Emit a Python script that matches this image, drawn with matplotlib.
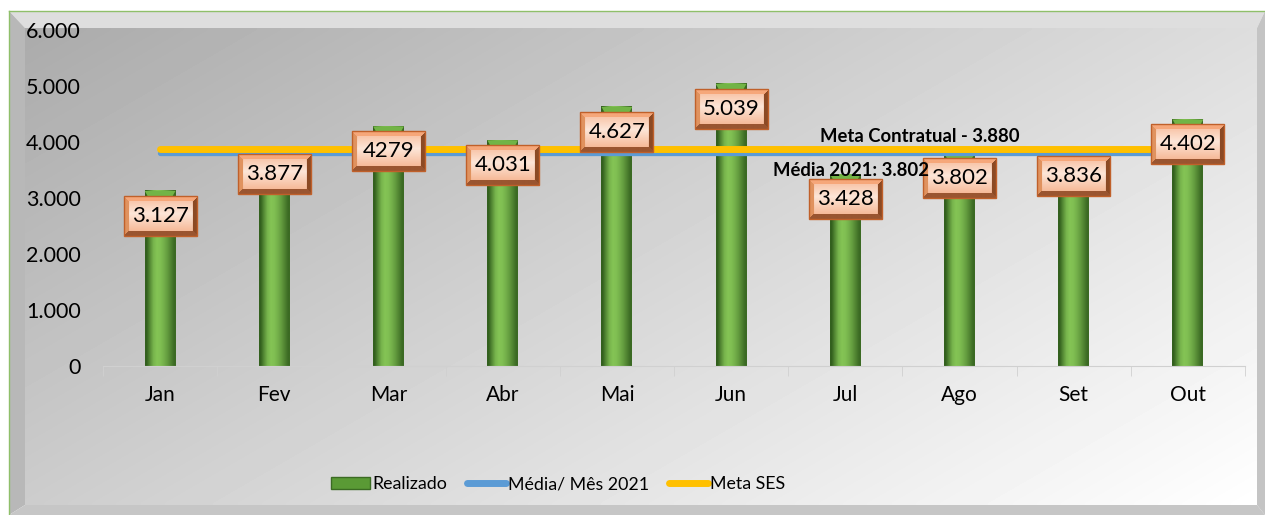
import numpy as np
import matplotlib.pyplot as plt
from matplotlib.colors import to_rgb
from matplotlib.patches import Rectangle, Polygon, Patch
from matplotlib.lines import Line2D

plt.rcParams['font.family'] = ['Lato', 'DejaVu Sans']

# Dados do grafico
meses = ['Jan', 'Fev', 'Mar', 'Abr', 'Mai', 'Jun', 'Jul', 'Ago', 'Set', 'Out']
realizado = [3127, 3877, 4279, 4031, 4627, 5039, 3428, 3802, 3836, 4402]
rotulos = ['3.127', '3.877', '4279', '4.031', '4.627', '5.039',
           '3.428', '3.802', '3.836', '4.402']
media_2021 = 3802
meta_ses = 3880
yticks = [0, 1000, 2000, 3000, 4000, 5000, 6000]
ytick_labels = ['0', '1.000', '2.000', '3.000', '4.000', '5.000', '6.000']

W, H = 1265, 515
fig = plt.figure(figsize=(W / 100, H / 100), dpi=100)
fig.patch.set_facecolor('white')

# Fundo com moldura chanfrada
bg = fig.add_axes([0, 0, 1, 1])
bg.set_xlim(0, W)
bg.set_ylim(H, 0)
bg.axis('off')
gx, gy = np.meshgrid(np.linspace(0, 1, 300), np.linspace(0, 1, 120))
t = 0.6 * gx + 0.4 * gy
grad = np.clip(0.67 + 0.33 * t, 0, 1)
bg.imshow(grad, extent=(25, 1257, 505, 28), cmap='gray', vmin=0, vmax=1,
          aspect='auto', interpolation='bilinear')
bg.add_patch(Polygon([(9, 11), (W, 11), (1257, 28), (25, 28)], color='#dedede', lw=0))
bg.add_patch(Polygon([(9, 11), (25, 28), (25, 505), (9, H)], color='#b8b8b8', lw=0))
bg.add_patch(Polygon([(9, H), (25, 505), (1257, 505), (W, H)], color='#c6c6c6', lw=0))
bg.add_patch(Polygon([(W, 11), (1257, 28), (1257, 505), (W, H)], color='#c4c4c4', lw=0))
bg.plot([9, W], [11, 11], color='#8fbf6a', lw=1)
bg.plot([9, 9], [11, H], color='#8fbf6a', lw=1)
bg.set_xlim(0, W)
bg.set_ylim(H, 0)

# Eixo principal
ax = fig.add_axes([103 / W, 1 - 366 / H, (1245 - 103) / W, (366 - 30) / H])
ax.set_facecolor('none')
ax.set_xlim(-0.5, 9.5)
ax.set_ylim(0, 6000)
x = np.arange(len(meses))


def gradiente_barra():
    perfil = np.array([0.0, 0.45, 0.85, 1.0, 0.95, 0.8, 0.6, 0.35, 0.1])
    escuro = np.array(to_rgb('#33601e'))
    claro = np.array(to_rgb('#84c455'))
    img = escuro + perfil[:, None] * (claro - escuro)
    return img[None, :, :]


def imagem_chanfro(h=40, w=73, b=5):
    img = np.zeros((h, w, 3))
    topo = np.array(to_rgb('#f6a77a'))
    esq = np.array(to_rgb('#e0925f'))
    dir_ = np.array(to_rgb('#8c4a24'))
    base = np.array(to_rgb('#9a5530'))
    f1 = np.array(to_rgb('#f6b896'))
    f2 = np.array(to_rgb('#fde6d8'))
    for i in range(h):
        for j in range(w):
            d = {'t': i, 'b': h - 1 - i, 'l': j, 'r': w - 1 - j}
            k = min(d, key=d.get)
            if d[k] < b:
                img[i, j] = {'t': topo, 'b': base, 'l': esq, 'r': dir_}[k]
            else:
                s = (i - b) / (h - 2 * b)
                a = 1 - abs(s - 0.4) / 0.6
                img[i, j] = f1 + np.clip(a, 0, 1) * (f2 - f1)
    return img


bar_img = gradiente_barra()
box_img = imagem_chanfro()
largura = 0.27
px_y = 6000 / 336.0
caixa_w = 0.64
caixa_h = 40 * px_y

for xi, v, r in zip(x, realizado, rotulos):
    ax.imshow(bar_img, extent=(xi - largura / 2, xi + largura / 2, 0, v),
              aspect='auto', interpolation='bilinear', zorder=2)
    ax.add_patch(Polygon([(xi - largura / 2, v), (xi + largura / 2, v),
                          (xi + largura / 2 - 0.04, v - 8 * px_y),
                          (xi - largura / 2 + 0.04, v - 8 * px_y)],
                         color='#72b446', lw=0, zorder=2.1))
    topo = v - 5 * px_y
    ax.imshow(box_img, extent=(xi - caixa_w / 2, xi + caixa_w / 2, topo - caixa_h, topo),
              aspect='auto', interpolation='bilinear', zorder=4)
    ax.add_patch(Rectangle((xi - caixa_w / 2, topo - caixa_h), caixa_w, caixa_h,
                           fill=False, edgecolor='#c0602a', lw=1, zorder=4.1))
    ax.text(xi, topo - caixa_h / 2, r, ha='center', va='center',
            fontsize=16, color='black', zorder=5)

ax.plot(x, [media_2021] * len(x), color='#5b9bd5', lw=3.8,
        solid_capstyle='round', zorder=3)
ax.plot(x, [meta_ses] * len(x), color='#ffc000', lw=5,
        solid_capstyle='round', zorder=3.1)

ax.text(6.65, 4090, 'Meta Contratual - 3.880', ha='center', va='center',
        fontsize=13.3, fontweight='bold', zorder=6)
ax.text(5.37, 3500, 'Média 2021: 3.802', ha='left', va='center',
        fontsize=13.3, fontweight='bold', zorder=6)

ax.set_xlim(-0.5, 9.5)
ax.set_ylim(0, 6000)
for s in ['top', 'right', 'left']:
    ax.spines[s].set_visible(False)
ax.spines['bottom'].set_color('#d0d0d0')
ax.set_xticks(x)
ax.set_xticklabels(meses, fontsize=15)
ax.set_xticks(np.arange(-0.5, 10, 1), minor=True)
ax.tick_params(axis='x', which='major', length=0, pad=14)
ax.tick_params(axis='x', which='minor', length=7, color='#d0d0d0')
ax.set_yticks(yticks)
ax.set_yticklabels(ytick_labels, fontsize=15.5)
ax.tick_params(axis='y', length=0, pad=16)

handles = [Patch(facecolor='#5a9a35', edgecolor='#3b6b23'),
           Line2D([], [], color='#5b9bd5', lw=5, solid_capstyle='round'),
           Line2D([], [], color='#ffc000', lw=5, solid_capstyle='round')]
fig.legend(handles, ['Realizado', 'Média/ Mês 2021', 'Meta SES'],
           loc='center', bbox_to_anchor=(558 / W, 1 - 484 / H), ncol=3,
           frameon=False, fontsize=12.8, handlelength=2.2, handletextpad=0.12,
           columnspacing=1.1)

fig.savefig('out.png', dpi=100)
